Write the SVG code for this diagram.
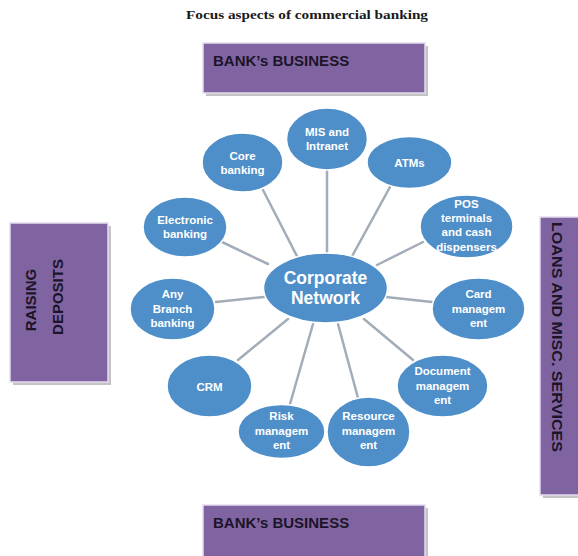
<svg xmlns="http://www.w3.org/2000/svg" width="578" height="556" viewBox="0 0 578 556">
  <style>
    .title { font-family: "Liberation Serif", "Times New Roman", serif; font-weight: bold; font-size: 12.5px; fill: #1a1a1a; }
    .box { fill: #8064a2; stroke: #e4dcef; stroke-width: 1.5; }
    .shadow { fill: #c4c4c4; }
    .boxtxt { font-family: "Liberation Sans", Arial, sans-serif; font-weight: bold; font-size: 15px; fill: #1c1428; }
    .link { stroke: #a3adb8; stroke-width: 2.5; stroke-linecap: round; fill: none; }
    .node ellipse { fill: #4f8fc9; stroke: #ffffff; stroke-width: 1.5; }
    .node text { font-family: "Liberation Sans", Arial, sans-serif; font-weight: bold; font-size: 11.5px; fill: #ffffff; text-anchor: middle; }
    .hub text { font-size: 17.5px; }
  </style>

  <rect width="578" height="556" fill="#ffffff"/>

  <text class="title" x="186" y="19" textLength="242" lengthAdjust="spacingAndGlyphs">Focus aspects of commercial banking</text>

  <!-- business areas -->
  <g id="box-top">
    <rect class="shadow" x="206" y="46" width="222" height="50"/>
    <rect class="box" x="203" y="43" width="222" height="50"/>
    <text class="boxtxt" x="213" y="66">BANK’s BUSINESS</text>
  </g>
  <g id="box-bottom">
    <rect class="shadow" x="206" y="508" width="222" height="52"/>
    <rect class="box" x="203" y="505" width="222" height="55"/>
    <text class="boxtxt" x="213" y="528">BANK’s BUSINESS</text>
  </g>
  <g id="box-left">
    <rect class="shadow" x="13" y="226" width="98" height="159"/>
    <rect class="box" x="10" y="223" width="98" height="159"/>
    <text class="boxtxt" transform="translate(35.5,300) rotate(-90)" text-anchor="middle" font-size="14">RAISING</text>
    <text class="boxtxt" transform="translate(62.5,297) rotate(-90)" text-anchor="middle" font-size="14">DEPOSITS</text>
  </g>
  <g id="box-right">
    <rect class="shadow" x="543" y="220" width="40" height="278"/>
    <rect class="box" x="540" y="217" width="45" height="278"/>
    <text class="boxtxt" transform="translate(552,222) rotate(90)" textLength="230" lengthAdjust="spacingAndGlyphs">LOANS AND MISC. SERVICES</text>
  </g>

  <!-- spokes from the hub -->
  <g id="connectors">
    <line class="link" x1="327" y1="170" x2="327" y2="254"/>
    <line class="link" x1="263" y1="190" x2="300" y2="262"/>
    <line class="link" x1="390" y1="187" x2="350" y2="260"/>
    <line class="link" x1="222" y1="242" x2="268" y2="264"/>
    <line class="link" x1="423" y1="242" x2="377" y2="265"/>
    <line class="link" x1="216" y1="302" x2="264" y2="297"/>
    <line class="link" x1="386" y1="297" x2="432" y2="302"/>
    <line class="link" x1="238" y1="360" x2="288" y2="319"/>
    <line class="link" x1="364" y1="319" x2="413" y2="360"/>
    <line class="link" x1="290" y1="404" x2="313" y2="324"/>
    <line class="link" x1="358" y1="398" x2="338" y2="324"/>
  </g>

  <g id="corporate-network" class="node hub">
    <ellipse cx="325.5" cy="288" rx="62" ry="35"/>
    <text x="325.5" y="284">Corporate</text>
    <text x="325.5" y="304">Network</text>
  </g>
  <g id="mis-intranet" class="node">
    <ellipse cx="327" cy="139" rx="40.5" ry="31"/>
    <text x="327" y="136">MIS and</text>
    <text x="327" y="150">Intranet</text>
  </g>
  <g id="core-banking" class="node">
    <ellipse cx="242.5" cy="162.5" rx="40.5" ry="29.5"/>
    <text x="242.5" y="159.5">Core</text>
    <text x="242.5" y="173.5">banking</text>
  </g>
  <g id="atms" class="node">
    <ellipse cx="409.5" cy="162.5" rx="42.5" ry="26"/>
    <text x="409.5" y="167">ATMs</text>
  </g>
  <g id="electronic-banking" class="node">
    <ellipse cx="185" cy="227" rx="42" ry="30"/>
    <text x="185" y="224">Electronic</text>
    <text x="185" y="238">banking</text>
  </g>
  <g id="pos-terminals" class="node">
    <ellipse cx="466.5" cy="226.5" rx="46.5" ry="31.5"/>
    <text x="466.5" y="207.5">POS</text>
    <text x="466.5" y="221.5">terminals</text>
    <text x="466.5" y="236">and cash</text>
    <text x="466.5" y="250.5">dispensers</text>
  </g>
  <g id="any-branch-banking" class="node">
    <ellipse cx="172.5" cy="309" rx="42.5" ry="31"/>
    <text x="172.5" y="298">Any</text>
    <text x="172.5" y="312.5">Branch</text>
    <text x="172.5" y="327">banking</text>
  </g>
  <g id="card-management" class="node">
    <ellipse cx="478.5" cy="309" rx="46.5" ry="31"/>
    <text x="478.5" y="298">Card</text>
    <text x="478.5" y="312.5">managem</text>
    <text x="478.5" y="327">ent</text>
  </g>
  <g id="crm" class="node">
    <ellipse cx="209.5" cy="386" rx="42.5" ry="31"/>
    <text x="209.5" y="390.5">CRM</text>
  </g>
  <g id="document-management" class="node">
    <ellipse cx="442.5" cy="386" rx="45.5" ry="31"/>
    <text x="442.5" y="375">Document</text>
    <text x="442.5" y="389.5">managem</text>
    <text x="442.5" y="404">ent</text>
  </g>
  <g id="risk-management" class="node">
    <ellipse cx="281.5" cy="431.5" rx="43.5" ry="27"/>
    <text x="281.5" y="420">Risk</text>
    <text x="281.5" y="434.5">managem</text>
    <text x="281.5" y="449">ent</text>
  </g>
  <g id="resource-management" class="node">
    <ellipse cx="368.5" cy="432" rx="41.5" ry="35"/>
    <text x="368.5" y="420">Resource</text>
    <text x="368.5" y="434.5">managem</text>
    <text x="368.5" y="449">ent</text>
  </g>
</svg>
